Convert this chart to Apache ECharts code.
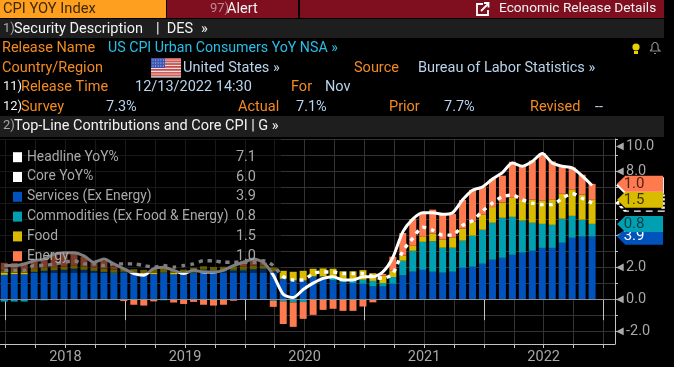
<!DOCTYPE html>
<html>
<head>
<meta charset="utf-8">
<style>
    html, body { margin: 0; padding: 0; background: #000; }
    #chart { width: 674px; height: 367px; }
</style>
<script src="https://cdn.jsdelivr.net/npm/echarts@6/dist/echarts.min.js"></script>
</head>
<body>
<div id="chart"></div>
<script>
// monthly, Dec 2017 to Nov 2022
var headline = [2.1,2.1,2.2,2.4,2.5,2.8,2.9,2.9,2.7,2.3,2.5,2.2,
    1.9,1.6,1.5,1.9,2.0,1.8,1.6,1.8,1.7,1.7,1.8,2.1,
    2.3,2.5,2.3,1.5,0.3,0.1,0.6,1.0,1.3,1.4,1.2,1.2,
    1.4,1.4,1.7,2.6,4.2,5.0,5.4,5.4,5.3,5.4,6.2,6.8,
    7.0,7.5,7.9,8.5,8.3,8.6,9.1,8.5,8.3,8.2,7.7,7.1];
var core = [1.8,1.8,1.8,2.1,2.1,2.2,2.3,2.4,2.2,2.2,2.1,2.2,
    2.2,2.2,2.1,2.0,2.1,2.0,2.1,2.2,2.4,2.4,2.3,2.3,
    2.3,2.3,2.4,2.1,1.4,1.2,1.2,1.6,1.7,1.7,1.6,1.6,
    1.6,1.4,1.3,1.6,3.0,3.8,4.5,4.3,4.0,4.0,4.6,4.9,
    5.5,6.0,6.4,6.5,6.2,6.0,5.9,5.9,6.3,6.6,6.3,6.0];
var services = [1.52,1.56,1.55,1.70,1.77,1.80,1.83,1.90,1.83,1.77,1.70,1.60,
    1.65,1.60,1.55,1.56,1.65,1.55,1.52,1.62,1.75,1.73,1.73,1.73,
    1.73,1.83,1.87,1.73,1.27,1.17,1.17,1.42,1.42,1.17,1.04,1.00,
    0.96,0.79,0.79,0.96,1.48,1.71,1.83,1.71,1.65,1.71,1.96,2.02,
    2.21,2.46,2.58,2.77,2.90,3.02,3.20,3.20,3.52,3.83,3.90,3.90];
var commodities = [-0.15,-0.15,-0.15,-0.05,-0.07,-0.05,-0.03,-0.02,-0.05,-0.05,-0.05,0.05,
    0.06,0.02,0.03,-0.04,-0.07,-0.04,0.02,0.04,0.10,0.08,0.07,0.10,
    0.10,0.04,0.03,-0.10,-0.13,-0.20,-0.18,-0.02,0,0.15,0.10,0.20,
    0.25,0.35,0.21,0.42,0.92,1.31,1.75,1.90,1.56,1.50,1.69,1.94,
    2.12,2.31,2.50,2.37,2.00,1.75,1.50,1.44,1.50,1.37,1.06,0.80];
var food = [0.27,0.26,0.22,0.24,0.21,0.20,0.20,0.18,0.22,0.20,0.20,0.20,
    0.20,0.25,0.25,0.30,0.28,0.25,0.30,0.30,0.20,0.20,0.22,0.20,
    0.22,0.22,0.20,0.25,0.50,0.54,0.60,0.48,0.50,0.58,0.60,0.54,
    0.60,0.48,0.46,0.42,0.31,0.31,0.31,0.50,0.50,0.62,0.75,0.87,
    0.94,0.98,0.96,1.19,1.29,1.44,1.44,1.56,1.56,1.63,1.56,1.50];
var energy = [0.48,0.44,0.50,0.41,0.46,0.73,0.77,0.77,0.60,0.35,0.48,0.20,
    -0.12,-0.35,-0.40,-0.10,0.02,-0.17,-0.30,-0.17,-0.35,-0.40,-0.35,-0.10,
    0.35,0.40,0.20,-0.38,-1.42,-1.53,-1.05,-0.96,-0.67,-0.60,-0.73,-0.73,
    -0.46,-0.20,0.12,0.85,1.42,1.67,1.48,1.48,1.54,1.48,1.79,2.00,
    1.72,1.75,1.67,2.25,2.13,2.44,2.98,2.40,1.71,1.40,1.25,1.00];

var legendNames = ['Headline YoY%', 'Core YoY%', 'Services (Ex Energy)', 'Commodities (Ex Food & Energy)', 'Food', 'Energy'];
var legendValues = ['7.1', '6.0', '3.9', '0.8', '1.5', '1.0'];
var yearLabels = ['2018', '2019', '2020', '2021', '2022'];
var yearLabelAt = [6.14, 18.14, 30.14, 42.14, 54.14];
var yearTicks = [0.14, 12.14, 24.14, 36.14, 48.14, 60.14];
var quarterTicks = [0.14,3.14,6.14,9.14,12.14,15.14,18.14,21.14,24.14,27.14,30.14,33.14,36.14,39.14,
    42.14,45.14,48.14,51.14,54.14,57.14,60.14];
var yTicks = [-2,-1,0,1,2,3,4,5,6,7,8,9,10];
var yLabels = [-2,0,2,4,6,8,10];

var COLORS = {services: '#0052bd', commodities: '#00a0b2', food: '#d9bc00', energy: '#ff7a4f'};
var ORANGE = '#f28a22', LIGHT = '#b9d3ea', CYAN = '#26bfe8', WHITE = '#f2f2f2', GREY = '#a8a8a8';
var FONT = 'Roboto';
var TAG = 'path://M0 8L8 0L45 0L45 16L8 16Z';

// value goes first: echarts stacks the first numeric column
function rows(arr) {
    return arr.map(function (v, i) { return [v, i]; });
}

// tag on the right of the plot, sits at the top of its stack
function tag(y, text, fill, textColor, z, extra) {
    var item = {
        coord: [59, y],
        value: text,
        symbol: TAG,
        symbolSize: [46, 16],
        symbolOffset: [48, 0],
        symbolKeepAspect: false,
        itemStyle: Object.assign({color: fill}, extra || {}),
        label: {
            show: !!text, position: 'inside', offset: [-6, 0], color: textColor,
            fontFamily: FONT, fontSize: 15,
            formatter: function () { return text; }
        }
    };
    return {silent: true, z: z, animation: false, data: [item]};
}

function barSeries(name, data, color, markPoint, markLine) {
    var s = {
        name: name, type: 'bar', stack: 'cpi', data: rows(data), encode: {x: 1, y: 0}, barWidth: 7,
        itemStyle: {color: color}, markPoint: markPoint
    };
    if (markLine) s.markLine = markLine;
    return s;
}

function lineSeries(name, data, dash, markPoint) {
    return {
        name: name, type: 'line', data: rows(data), encode: {x: 1, y: 0}, showSymbol: false, smooth: 0.25, z: 4,
        lineStyle: {color: '#fff', width: dash ? 3.4 : 3, type: dash ? [4, 5] : 'solid'},
        itemStyle: {color: '#fff'},
        markPoint: markPoint
    };
}

// header pieces
function txt(x, y, s, color, size) {
    return {type: 'text', x: x, y: y, z: 30, silent: true, style: {
        text: s, fill: color, font: (size || 14.5) + 'px ' + FONT, verticalAlign: 'middle'
    }};
}
function box(x, y, w, h, fill) {
    return {type: 'rect', z: 29, silent: true, shape: {x: x, y: y, width: w, height: h}, style: {fill: fill}};
}
function stroke(points, color, width) {
    return {type: 'polyline', z: 30, silent: true, shape: {points: points}, style: {stroke: color, lineWidth: width, fill: null}};
}

function headerGraphics() {
    var g = [
        box(0, 0, 166, 18, '#ff9f1f'),
        box(167, 0, 131, 18, '#7f0f1f'),
        box(300, 0, 364, 18, '#7f0f1f'),
        box(0, 19, 664, 19, '#1e1e1e'),
        box(0, 116, 664, 21, '#1e1e1e'),
        txt(3, 9, 'CPI YOY Index', '#3b2a05', 14.7),
        txt(210, 9, '97)', '#b98a90', 13),
        txt(227, 9, 'Alert', WHITE),
        txt(499, 9, 'Economic Release Details', WHITE, 13.7),
        txt(3, 29, '1)', GREY, 13),
        txt(14, 29, 'Security Description', WHITE),
        txt(156, 29, '|  DES', WHITE),
        txt(201, 29, '»', WHITE),
        txt(2, 48, 'Release Name', ORANGE),
        txt(108, 48, 'US CPI Urban Consumers YoY NSA »', CYAN, 14.2),
        txt(2, 68, 'Country/Region', ORANGE),
        txt(183, 68, 'United States »', LIGHT),
        txt(354, 68, 'Source', ORANGE),
        txt(418, 68, 'Bureau of Labor Statistics »', LIGHT),
        txt(3, 87, '11)', WHITE, 13),
        txt(21, 87, 'Release Time', ORANGE),
        txt(135, 87, '12/13/2022 14:30', LIGHT),
        txt(291, 87, 'For', ORANGE),
        txt(325, 87, 'Nov', LIGHT),
        txt(3, 107, '12)', WHITE, 13),
        txt(21, 107, 'Survey', ORANGE),
        txt(106, 107, '7.3%', LIGHT),
        txt(238, 107, 'Actual', ORANGE),
        txt(296, 107, '7.1%', LIGHT),
        txt(389, 107, 'Prior', ORANGE),
        txt(444, 107, '7.7%', LIGHT),
        txt(530, 107, 'Revised', ORANGE),
        txt(595, 107, '--', LIGHT),
        txt(3, 126, '2)', GREY, 13),
        txt(14, 126, 'Top-Line Contributions and Core CPI | G »', WHITE)
    ];
    // flag
    for (var i = 0; i < 7; i++) {
        g.push(box(151, 58 + i * 2.8, 30, 1.5, '#e8534f'));
        g.push(box(151, 59.4 + i * 2.8, 30, 1.4, '#f4dcdc'));
    }
    g.push(box(151, 58, 14, 10, '#3d55b0'));
    for (var r = 0; r < 3; r++) {
        for (var c = 0; c < 5; c++) {
            g.push(box(152.5 + c * 2.6, 59.5 + r * 3, 1, 1, '#c8d0f0'));
        }
    }
    // link icon
    g.push(stroke([[483, 4], [477, 4], [477, 15], [488, 15], [488, 10]], '#fff', 1.8));
    g.push(stroke([[481, 11], [488, 4]], '#fff', 1.8));
    g.push(stroke([[484, 3], [488.5, 3], [488.5, 7.5]], '#fff', 1.8));
    // bulb
    g.push({type: 'circle', z: 30, silent: true, shape: {cx: 636, cy: 47, r: 3.6}, style: {fill: '#e6d200'}});
    g.push(box(634, 51, 4, 3, '#e6d200'));
    // bell
    g.push(stroke([[650, 51], [652, 49], [652, 45], [654, 42.5], [656, 42.5], [658, 45], [658, 49], [660, 51], [650, 51]], '#8a8a8a', 1.2));
    g.push(stroke([[654, 53.5], [656, 53.5]], '#8a8a8a', 1.2));
    return g;
}

var last = services.length - 1;
var stackFood = services[last] + commodities[last] + food[last];
var stackEnergy = stackFood + energy[last];

var series = [
    barSeries('Services (Ex Energy)', services, COLORS.services,
        tag(services[last], legendValues[2], COLORS.services, '#fff', 11),
        {silent: true, symbol: 'none', z: 6, animation: false, label: {show: false},
            lineStyle: {color: '#8c8c8c', width: 1, type: 'solid'}, data: [{yAxis: 0}]}),
    barSeries('Commodities (Ex Food & Energy)', commodities, COLORS.commodities,
        tag(services[last] + commodities[last], legendValues[3], COLORS.commodities, '#0b3f47', 12)),
    barSeries('Food', food, COLORS.food,
        tag(stackFood, legendValues[4], COLORS.food, '#3f3500', 15)),
    barSeries('Energy', energy, COLORS.energy,
        tag(stackEnergy, legendValues[5], COLORS.energy, '#4a2214', 16)),
    lineSeries('Headline YoY%', headline, false,
        tag(headline[last], '', '#fff', '#000', 13, {borderColor: '#fff', borderWidth: 1})),
    lineSeries('Core YoY%', core, true,
        tag(core[last], '', '#000', '#000', 14, {borderColor: '#fff', borderWidth: 2, borderType: [4, 3]}))
];

var myChart = echarts.init(document.getElementById('chart'));
var option = {
    animation: false,
    backgroundColor: '#000',
    textStyle: {fontFamily: FONT},
    grid: {left: 0, right: 59, top: 139, bottom: 23},
    legend: {
        left: 0, top: 139, orient: 'vertical', z: 20, selectedMode: false,
        backgroundColor: 'rgba(0,0,0,0.5)',
        padding: [10.7, 25, 9.3, 13],
        itemWidth: 9, itemHeight: 10, itemGap: 4.8, itemTextGap: 1, itemStyle: {borderWidth: 0},
        data: legendNames.map(function (n, i) {
            var colors = ['#fff', '#fff', COLORS.services, COLORS.commodities, COLORS.food, COLORS.energy];
            return {name: n, icon: 'rect', itemStyle: {color: colors[i]}};
        }),
        formatter: function (name) {
            return '{n|' + name + '}{v|' + legendValues[legendNames.indexOf(name)] + '}';
        },
        textStyle: {
            rich: {
                n: {color: GREY, fontFamily: FONT, fontSize: 13.8, width: 191, lineHeight: 14},
                v: {color: GREY, fontFamily: FONT, fontSize: 14.5, width: 38, align: 'right', lineHeight: 14}
            }
        }
    },
    xAxis: [{
        type: 'value', min: -0.43, max: 61.3,
        axisLine: {onZero: false, lineStyle: {color: '#c4c4c4', width: 1}},
        axisTick: {length: 4, customValues: quarterTicks, lineStyle: {color: '#c4c4c4'}},
        splitLine: {show: true, lineStyle: {color: '#333', width: 1}},
        axisLabel: {
            margin: 6, color: GREY, fontSize: 14.5, fontFamily: FONT,
            customValues: yearLabelAt,
            formatter: function (v) { return yearLabels[yearLabelAt.indexOf(v)]; }
        }
    }, {
        type: 'value', min: -0.43, max: 61.3, position: 'bottom',
        axisLine: {show: false},
        axisTick: {length: 21, customValues: yearTicks, lineStyle: {color: '#c4c4c4'}},
        splitLine: {show: false},
        axisLabel: {show: false}
    }],
    yAxis: {
        type: 'value', position: 'right', min: -2.8, max: 10,
        axisLine: {show: true, onZero: false, lineStyle: {color: '#c4c4c4', width: 1}},
        axisTick: {show: true, length: 3, customValues: yTicks, lineStyle: {color: '#c4c4c4'}},
        splitLine: {show: true, lineStyle: {color: '#333', width: 1}},
        axisLabel: {
            margin: 1, customValues: yLabels, verticalAlignMaxLabel: 'top',
            formatter: function (v) { return '{t|◀}{v|' + v.toFixed(1) + '}'; },
            rich: {
                t: {color: '#a8a8a8', fontSize: 10, fontFamily: 'DejaVu Sans', width: 10},
                v: {color: GREY, fontSize: 14.5, fontFamily: FONT}
            }
        }
    },
    graphic: headerGraphics(),
    series: series
};
myChart.setOption(option);
</script>
</body>
</html>
